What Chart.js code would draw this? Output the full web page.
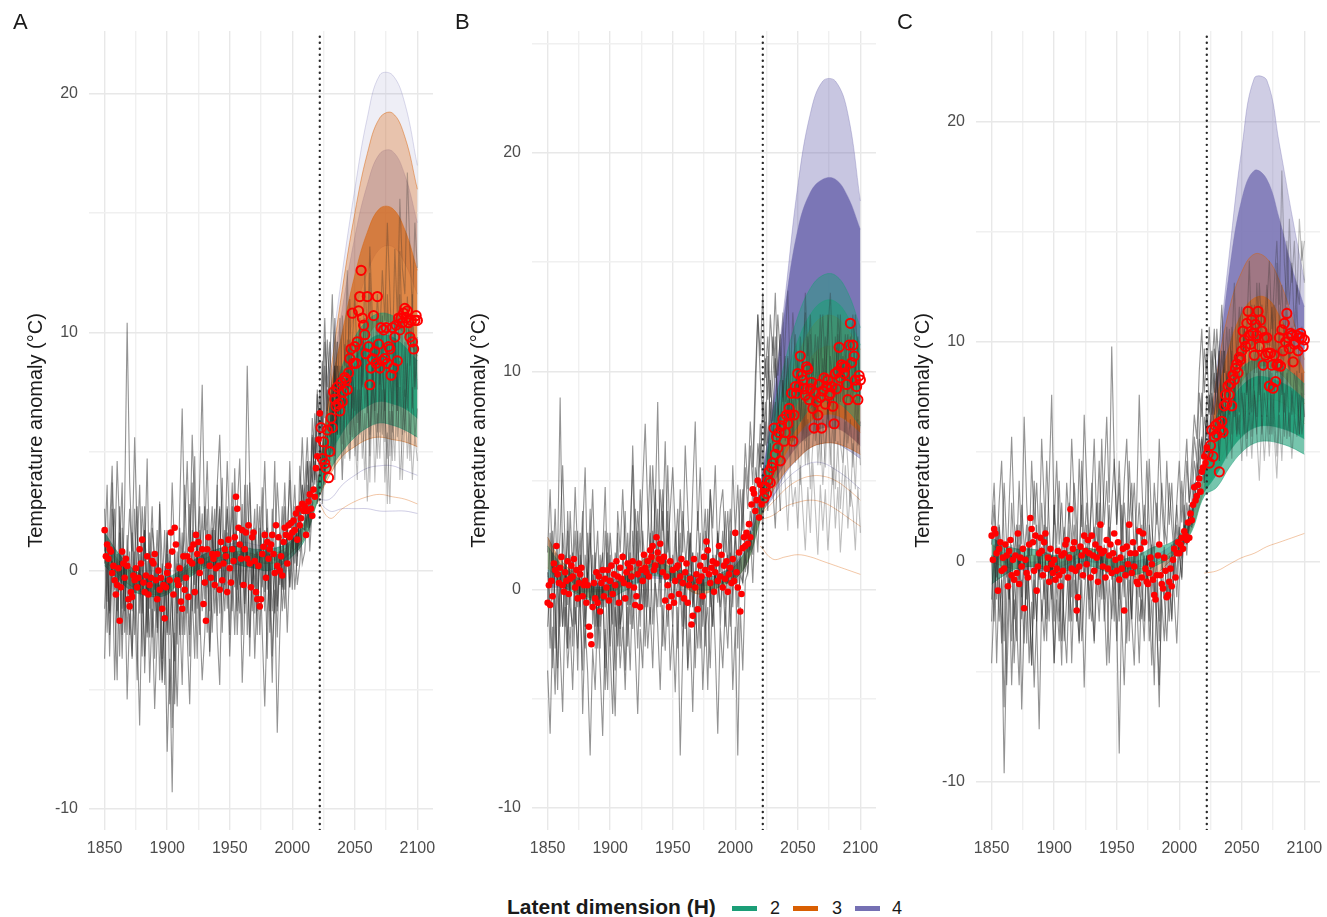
<!DOCTYPE html>
<html><head><meta charset="utf-8">
<script src="https://cdn.jsdelivr.net/npm/chart.js@4.4.1/dist/chart.umd.min.js"></script>
<style>
html,body{margin:0;padding:0;background:#fff;}
#wrap{position:relative;width:1327px;height:917px;overflow:hidden;font-family:'Liberation Sans',Arial,sans-serif;}
canvas{position:absolute;top:0;}
.plab{position:absolute;font-size:22px;line-height:22px;color:#1a1a1a;}
.leg{position:absolute;line-height:24px;color:#1a1a1a;white-space:nowrap;}
.sw{position:absolute;height:5px;width:25px;}
</style></head><body>
<div id="wrap">
<canvas id="cA" width="440" height="870" style="left:0px"></canvas>
<canvas id="cB" width="440" height="870" style="left:443px"></canvas>
<canvas id="cC" width="440" height="870" style="left:887px"></canvas>
<div class="plab" style="left:13px;top:11px">A</div>
<div class="plab" style="left:455px;top:11px">B</div>
<div class="plab" style="left:897px;top:11px">C</div>
<div class="leg" style="left:507px;top:895px;font-size:21px;font-weight:bold">Latent dimension (H)</div>
<div class="sw" style="left:732px;top:906px;background:#1B9E77"></div>
<div class="leg" style="left:770px;top:896px;font-size:18px">2</div>
<div class="sw" style="left:793px;top:906px;background:#D95F02"></div>
<div class="leg" style="left:832px;top:896px;font-size:18px">3</div>
<div class="sw" style="left:855px;top:906px;background:#7570B3"></div>
<div class="leg" style="left:892px;top:896px;font-size:18px">4</div>
</div>
<script>
// ---------------- DATA ----------------
const splitYear = 2022;
const pastYears = Array.from({length:173},(_,i)=>1850+i);   // 1850..2022
const futureYears = Array.from({length:78},(_,i)=>2023+i);  // 2023..2100
const grayYears = Array.from({length:126},(_,i)=>1850+2*i); // 1850..2100 step 2
const knotYears = [1850,1860,1870,1880,1890,1900,1910,1920,1930,1940,1950,1960,1970,1980,1990,2000,2010,2020,2030,2040,2050,2060,2070,2080,2090,2100];
const coreYears = [2020,2030,2040,2050,2060,2070,2080,2090,2100];
const xTicks = [1850,1875,1900,1925,1950,1975,2000,2025,2050,2075,2100];
const yTicksA = [-10,-5,0,5,10,15,20];
const yTicksB = [-10,-5,0,5,10,15,20,25];
const yTicksC = [-10,-5,0,5,10,15,20];

// observations (red)
const obsA_past = [1.7,0.6,1.1,0.5,0.9,0.8,-0.1,0.2,-0.4,-1.0, -0.6,0.1,-2.1,-0.7,0.8,0.3,-0.3,0.5,0.2,-1.2, -1.5,-0.9,-1.1,-0.2,-0.4,0.1,-0.7,-0.3,0.9,0.3, 1.3,-0.5,-0.9,-0.2,0.6,-1.0,-0.6,-0.3,0.4,0.3, 0.7,-0.4,-1.2,0.0,-0.8,-0.3,-1.6,-0.6,-2.0,-0.7, -0.1,0.2,-0.4,1.6,0.8,-1.0,1.8,1.1,-0.4,-0.6, 0.1,-1.3,-1.6,0.6,-0.8,-0.3,0.6,-1.1,0.4,0.9, 0.3,1.1,-0.9,1.5,0.7,1.2,-0.1,0.4,0.9,-1.4, -0.5,-2.1,0.9,1.4,0.2,-0.3,0.7,0.5,-0.6,0.1, 0.7,0.2,-0.8,1.2,-0.4,0.3,0.9,0.6,-0.9,1.3, 0.1,-0.5,0.9,0.4,1.4,3.1,2.6,1.8,1.1,0.5, 1.7,-0.6,0.9,1.6,0.5,1.9,0.3,-0.7,1.4,1.6, 0.4,-0.9,-1.2,0.2,-1.5,-1.2,0.7,1.0,1.5,-0.3, 1.2,0.5,0.9,1.1,1.5,0.7,-0.1,1.9,0.2,1.4, 0.0,0.6,-0.2,1.2,1.8,1.5,0.3,1.9,1.4,2.0, 1.6,2.1,1.7,2.4,1.3,2.6,1.9,2.2,2.8,2.5, 2.7,1.5,2.5,2.9,3.2,2.6,2.3,3.4,3.1,4.3, 4.8,5.5,6.6];
const obsA_future = [6.0,4.7,5.4,4.5,4.3,5.9,3.9,5.0,6.4,6.0, 7.5,7.2,6.9,7.7,7.0,6.7,7.9,7.1,7.5,8.1, 8.0,7.6,8.3,8.9,9.3,10.8,8.7,9.4,8.7,9.6, 10.9,11.5,12.6,10.6,10.3,9.9,9.1,11.5,9.4,7.8, 8.5,8.9,10.7,9.2,8.7,11.5,9.5,8.5,10.2,8.8, 10.1,8.9,10.2,8.7,9.4,9.3,8.2,10.2,8.5,9.8, 10.3,8.8,10.6,10.1,10.6,10.4,10.8,11.0,10.6,10.9, 10.4,9.8,10.5,9.6,9.3,10.5,10.7,10.5];
const obsB_past = [-0.6,0.2,-0.7,0.4,-0.3,1.2,0.9,2.0,0.7,0.3, 1.0,1.5,0.2,-0.1,0.8,0.4,1.3,-0.2,0.5,1.1, 0.6,1.4,0.1,0.9,-0.4,0.3,0.7,1.0,-0.3,0.2, 0.4,-0.6,0.2,-1.7,-2.1,-2.5,-0.8,0.3,-0.4,0.8, -0.6,0.6,-1.0,0.3,0.9,-0.3,0.5,0.1,0.9,-0.5, 0.4,1.1,-0.2,0.7,0.2,1.3,0.6,-0.6,1.0,0.5, 1.5,0.3,-0.4,0.8,1.2,0.2,1.0,0.6,1.3,0.1, -0.7,-0.3,0.7,1.2,-0.8,0.9,0.4,1.6,1.0,0.8, 1.3,0.6,1.8,1.5,2.0,0.9,1.1,2.4,1.7,1.4, 2.1,1.3,0.8,1.5,-0.5,0.6,0.2,-0.8,1.3,-0.3, 0.9,-0.6,0.4,1.0,1.1,-0.2,0.6,1.4,0.3,-0.4, 0.8,1.2,-0.6,0.2,0.5,-1.6,-1.2,1.4,0.1,0.7, -0.9,0.4,1.1,0.6,-0.3,1.5,0.9,2.2,1.8,0.7, 0.3,1.0,1.3,-0.1,0.8,1.2,0.4,2.0,0.6,1.6, 0.1,1.1,0.5,1.3,-0.1,0.7,1.0,0.3,1.4,0.4, 2.6,0.8,0.1,1.7,-1.0,-0.2,1.9,2.4,2.0,2.6, 2.1,3.0,2.4,3.9,4.6,4.4,3.6,4.1,5.0,3.3, 4.8,3.9,4.5];
const obsB_future = [4.2,4.7,4.4,5.0,5.4,4.9,5.6,5.8,7.4,6.2, 7.0,6.5,7.2,5.9,7.5,7.8,6.8,7.2,8.0,7.6, 8.3,8.0,9.0,6.8,8.0,9.3,9.0,9.9,9.3,10.7, 9.8,9.6,9.2,8.9,10.2,10.1,8.7,9.2,9.5,8.3, 7.4,9.0,8.6,8.0,9.4,8.8,7.4,9.1,9.7,8.5, 9.3,9.6,8.9,9.0,9.3,8.4,7.6,9.9,9.2,10.0, 11.1,9.7,10.3,10.2,9.9,10.2,9.4,8.7,11.2,12.2, 10.4,11.2,10.7,9.6,9.3,8.7,9.8,9.6];
const obsC_past = [1.2,0.1,1.5,1.3,0.4,-1.3,0.6,0.9,-0.4,0.2, -0.3,0.8,0.3,-1.1,0.5,1.0,-0.6,0.1,-0.8,0.3, -0.5,1.3,-1.0,0.2,-0.2,0.6,-2.1,0.1,-0.5,-0.7, 0.8,2.0,1.5,0.9,-0.4,1.2,-1.3,-0.2,0.4,1.1, 0.5,-0.6,0.9,1.3,-0.3,0.2,-0.9,0.6,-0.1,-0.5, 0.1,-0.8,-0.3,0.5,-0.6,-1.1,0.3,-0.4,0.4,0.8, 1.0,-0.7,0.2,2.4,-0.3,0.6,0.9,-0.4,-2.2,-1.6, -0.2,0.7,0.3,-0.6,1.2,0.5,-0.1,1.0,0.4,-0.7, 1.2,0.3,-0.4,0.8,0.2,-0.9,0.6,1.7,0.4,-0.2, 0.5,-0.7,1.0,-0.3,0.3,0.8,-0.5,0.4,1.3,0.1, -0.4,0.9,-0.8,0.2,-0.3,0.6,-2.2,-0.6,0.7,-0.1, 1.7,0.4,-0.5,0.9,-0.2,0.4,-0.9,-1.0,1.4,0.6, -0.7,1.3,0.9,-0.3,-0.9,-1.0,-0.5,0.2,-0.1,-0.8, -1.5,-1.7,-0.6,0.3,0.8,-0.6,-1.0,-1.2,0.2,-0.4, -1.6,-1.5,-0.9,-0.3,-1.1,0.1,0.6,-0.7,0.4,0.9, 0.4,0.8,1.1,0.6,1.4,1.2,1.0,1.8,1.1,2.2, 1.9,2.6,3.4,2.8,3.0,3.5,3.8,3.2,4.1,4.3, 4.8,4.5,5.2];
const obsC_future = [4.9,4.5,5.3,6.0,4.8,5.7,6.2,5.8,6.3,4.1, 6.0,6.4,5.9,7.1,7.6,7.2,8.0,7.6,8.1,7.1, 8.5,8.3,8.8,9.0,8.6,9.3,9.2,9.6,10.5,10.1, 9.8,10.85,11.4,10.3,9.9,11.0,10.4,9.4,10.8,10.3, 11.4,9.8,11.0,10.5,8.95,10.2,9.4,10.2,9.5,8.0, 9.5,8.95,7.9,9.4,8.2,8.95,9.0,10.2,8.9,10.55, 9.6,10.85,10.0,11.3,10.2,9.7,10.4,10.3,9.1,9.9, 10.0,10.3,9.6,10.2,10.4,10.2,9.8,10.1];

// simulated ensemble members (grey), every 2 years 1850..2100
const grayA1 = [2.6,-1.3,1.8,4.4,0.3,-2.2,0.8,3.7,-2.6,1.5, -0.7,-3.6,0.4,2.7,-1.8,1.2,-4.3,-0.9,1.6,-2.8, 0.2,-2.4,2.9,-3.7,-1.1,1.7,-5.6,-2.3,0.9,-3.1, 1.8,-0.6,3.6,0.4,-2.7,0.9,4.8,-1.6,0.3,2.4, -1.2,1.7,-3.4,0.8,2.6,-1.9,0.5,3.9,-0.8,1.6, -2.7,0.6,4.3,-0.3,-1.8,2.8,-1.4,1.9,-3.6,0.7, 2.6,-1.7,0.3,3.5,-0.9,1.8,-2.6,0.8,4.6,-1.5, 0.4,2.7,-0.8,1.6,3.8,0.9,2.5,0.2,4.4,2.6, 3.5,5.6,2.8,6.4,4.7,7.6,5.5,8.8,6.4,9.7, 7.5,5.8,10.6,6.7,8.6,5.3,9.5,7.6,11.4,6.8, 8.7,6.2,10.4,7.7,9.6,6.6,12.5,8.4,6.1,10.6, 7.8,9.6,5.4,11.6,8.7,6.9,10.5,7.7,13.4,9.6, 7.3,11.5,8.6,10.7,7.6,9.8];
const grayA2 = [-1.6,0.7,-3.6,0.4,-1.3,-4.6,1.6,-2.7,0.3,-5.4, -1.8,-3.7,0.8,-2.6,-6.5,-0.7,-3.6,0.4,-4.7,-1.6, -5.8,-2.7,-0.6,-4.6,-1.7,-7.6,-3.7,-9.3,-2.6,-5.7, -1.6,-4.8,0.3,-2.7,-5.6,-0.8,-3.7,0.9,-1.8,-4.6, -2.7,0.4,-3.6,-0.7,1.7,-2.6,-4.8,0.3,-1.7,0.8, -3.6,-0.8,1.6,-2.7,0.3,-4.7,-1.6,0.8,-2.8,0.4, -3.7,-0.7,0.8,-2.6,-5.7,-1.8,0.3,-3.6,-0.8,-6.8, -2.7,0.4,-1.6,0.8,-0.7,1.7,0.3,2.6,0.8,3.6, 1.7,4.6,2.7,5.6,3.8,7.4,5.7,4.6,8.6,6.7, 5.6,7.7,4.8,8.6,6.7,3.8,7.6,5.7,4.6,8.4, 5.7,3.8,7.6,4.7,6.6,2.9,5.7,7.6,3.7,6.6, 4.7,7.6,3.7,5.8,2.8,6.7,4.6,8.5,3.8,5.6, 7.6,4.7,6.6,3.8,5.7,4.6];
const grayA3 = [0.8,3.6,-1.7,2.6,0.3,4.6,1.7,-0.8,2.7,10.4, 3.7,0.8,5.6,1.6,-0.7,2.7,0.4,4.7,-1.6,1.8, 0.7,-2.6,2.8,0.3,-1.7,1.6,-0.8,3.7,0.6,-1.8, 2.6,6.8,1.7,4.6,0.8,5.7,2.6,0.3,3.7,7.8, 1.7,4.6,0.8,2.7,-0.8,3.6,5.7,1.6,0.3,2.7, 0.8,3.7,-0.7,2.6,4.7,0.3,1.7,8.6,3.6,0.8, -0.7,2.8,0.3,1.7,4.6,0.8,-1.7,2.6,0.4,3.7, 1.7,-0.8,2.7,0.8,4.6,1.7,3.6,0.8,2.7,5.6, 2.7,4.6,1.8,5.7,3.6,6.7,4.6,7.6,10.6,6.7, 8.6,11.6,7.7,9.6,6.8,10.7,8.6,12.6,7.7,9.5, 11.6,8.7,10.6,7.8,12.5,9.6,13.6,10.7,8.6,11.6, 9.7,12.6,10.5,14.6,11.7,8.8,13.5,10.6,15.6,12.7, 11.6,16.7,13.6,10.8,14.6,12.7];
const grayA4 = [-3.7,0.3,-1.8,0.8,-4.6,-0.7,2.7,-1.6,0.4,-2.7, 0.8,-1.7,2.6,-0.8,0.3,-3.6,1.7,-0.6,-2.8,0.7, -1.7,0.3,-4.6,-0.8,1.7,-2.7,0.4,-6.6,-1.6,0.8, -0.7,1.6,-2.7,0.3,2.8,-1.7,0.6,-3.7,1.7,0.2, 2.7,-0.7,0.8,-2.6,0.3,3.6,-1.8,0.7,-0.6,2.6, 0.3,-1.7,2.6,-0.8,0.7,-2.7,1.6,0.2,3.7,-0.8, 0.7,-2.7,1.8,0.3,-1.7,2.6,-0.8,-4.7,0.6,-1.7, 1.6,-0.7,0.8,-2.6,0.3,1.7,-0.8,0.7,2.6,0.3, 0.8,2.7,1.6,3.7,5.6,2.8,4.6,6.7,3.6,5.7, 4.6,6.7,3.8,7.6,5.7,8.6,4.7,6.6,9.7,5.6, 7.7,4.6,8.6,6.7,3.8,7.6,5.7,9.6,6.6,4.7, 8.6,5.7,7.6,2.8,6.7,4.6,8.7,5.6,7.7,3.8, 6.6,8.7,4.6,7.7,5.6,6.8];
const grayA5 = [1.7,-2.6,0.3,3.7,-0.8,0.7,-3.6,1.8,-1.7,0.3, 2.6,0.4,-2.7,0.8,3.6,-0.7,1.7,-2.8,0.3,2.7, -0.8,1.7,-1.6,-4.7,0.2,-2.6,0.8,-1.7,-3.8,0.3, -2.7,0.4,1.7,-1.8,0.8,3.7,-0.6,1.6,-2.7,0.8, 0.3,2.6,-1.7,1.8,-0.7,0.8,2.7,-2.6,0.7,4.6, 1.7,0.3,-2.7,0.8,-0.6,1.7,-1.8,3.6,0.7,-1.7, 1.8,0.2,2.7,-0.7,0.8,-3.7,1.6,0.3,-1.8,0.7, -0.6,0.8,3.7,0.3,1.6,-0.8,2.7,0.6,1.8,3.6, 2.7,1.8,4.6,3.7,6.6,4.7,7.6,5.8,9.6,7.7, 9.6,6.7,8.6,5.8,10.6,7.7,6.8,9.7,5.7,8.6, 6.7,9.6,5.8,8.7,10.6,7.6,4.8,8.6,6.7,9.7, 5.8,8.6,6.7,9.6,4.8,7.7,10.6,6.7,8.8,5.7, 9.6,6.8,8.7,11.6,7.7,9.6];
const grayA6 = [0.3,1.7,-2.7,0.8,2.6,-1.7,0.4,-3.7,0.8,-0.7, -2.7,1.6,-0.8,-4.6,0.7,-1.8,2.7,-2.6,0.8,-0.6, -3.7,0.8,-1.7,0.3,-4.8,0.7,-2.7,-0.8,-5.6,-1.7, 0.3,-2.7,0.8,-0.7,-3.6,1.7,-1.8,0.3,2.7,-1.7, 0.8,-2.6,0.3,1.7,-1.8,0.2,2.6,-0.8,1.7,-1.6, 0.7,2.7,0.3,-1.7,1.8,-0.7,3.6,-2.7,0.3,1.7, -1.8,0.8,-2.7,0.3,1.7,-0.8,0.7,-1.7,0.3,-2.8, 0.8,-1.7,0.3,1.8,-0.7,0.8,1.7,-0.6,0.3,1.8, 1.7,3.6,0.8,2.7,4.6,3.7,5.6,2.8,4.7,7.6, 6.7,4.8,8.6,5.7,7.6,3.8,6.7,8.6,4.7,7.7, 4.8,7.6,5.7,9.6,6.8,8.6,3.7,7.7,9.6,5.8, 7.6,10.7,6.8,4.7,8.6,5.8,9.6,6.7,11.6,7.7, 5.8,8.6,10.7,6.8,9.7,7.6];

const grayB1 = [-0.7,2.6,0.3,-2.7,1.7,8.8,0.8,-1.7,3.6,0.4, -2.6,0.8,2.7,-0.8,-3.7,1.6,0.3,3.7,-1.6,0.8, -1.7,1.6,-0.8,2.7,0.3,-2.6,0.8,-0.7,2.6,-1.8, 0.8,3.6,-0.7,1.7,6.6,2.7,0.3,4.6,1.7,-0.8, 2.6,5.7,0.8,3.7,8.6,1.7,4.6,0.3,2.7,0.8, -1.7,1.6,3.7,0.3,-2.6,0.8,2.7,-0.8,1.7,-3.6, 0.3,2.6,-1.7,0.8,3.7,-0.8,1.6,0.3,2.7,-1.7, 0.8,3.6,0.3,1.7,-0.8,2.7,0.8,4.6,2.7,5.6, 3.7,6.6,4.8,8.7,12.6,9.7,7.8,10.6,8.7,12.6, 10.7,13.6,9.8,11.7,8.6,10.7,7.8,9.6,6.8,8.7, 10.6,7.7,9.6,6.8,11.6,8.7,10.6,7.8,9.7,12.6, 8.7,11.6,7.8,10.7,9.6,6.8,11.7,8.6,10.7,7.8, 9.7,11.6,8.8,10.6,7.7,9.6];
const grayB2 = [-3.7,-6.6,-1.7,-4.8,0.3,-2.7,-5.6,-0.8,-3.6,-1.7, -4.6,-0.8,-2.7,0.3,-5.7,-1.6,-3.8,-7.6,-2.7,-4.6, -0.8,-3.7,-6.7,-1.8,-4.6,0.3,-2.7,-5.8,-0.7,-3.6, -1.7,-4.6,-0.8,-3.7,0.4,-2.6,-5.7,-1.8,-3.6,0.7, -2.7,-0.8,-3.6,0.3,-1.7,-4.6,-0.7,-2.8,0.4,-3.7, -1.6,-4.7,-0.8,-7.6,-2.7,0.3,-3.7,-1.8,-5.6,-0.8, -2.7,0.3,-4.6,-1.7,-0.8,-3.6,0.4,-2.7,-6.6,-1.7, -3.6,-0.8,-2.7,0.3,-4.6,-1.7,-7.6,-0.8,-3.7,0.4, 0.8,2.7,0.3,3.6,1.7,4.6,2.8,5.7,3.6,6.7, 4.6,2.8,5.7,3.6,6.6,4.8,2.7,5.6,3.8,4.7, 2.8,5.7,3.6,1.8,4.7,2.6,5.8,3.7,1.6,4.8, 2.7,4.6,1.8,3.7,5.6,2.8,4.7,1.7,3.6,5.7, 2.8,4.6,3.7,1.8,4.7,2.6];
const grayB3 = [1.7,4.6,0.8,3.7,0.3,2.6,5.7,1.8,-0.7,3.6, 0.8,4.7,1.6,-0.8,2.7,5.6,0.3,1.7,4.6,0.8, 2.7,-0.8,1.6,4.7,0.3,2.6,0.8,-1.7,3.6,1.7, 4.6,1.7,0.3,2.8,5.7,0.8,3.6,1.7,4.8,7.6, 3.7,1.6,5.7,2.8,0.7,4.6,2.7,6.8,1.7,3.6, 5.6,2.7,0.8,4.6,1.7,6.6,3.7,0.8,4.6,7.7, 2.7,5.6,1.8,3.7,0.3,4.6,2.8,5.7,1.6,3.7, 4.6,1.7,3.6,0.8,5.7,2.6,4.8,1.7,3.6,6.7, 4.6,7.7,5.6,9.7,12.6,10.7,13.6,9.7,11.6,8.8, 11.6,9.7,12.6,10.7,8.8,11.6,13.7,9.6,12.7,10.6, 8.7,11.6,9.7,13.6,10.7,12.6,9.8,11.7,8.6,10.7, 12.6,9.7,11.8,13.6,10.7,8.8,12.6,10.7,9.6,11.7, 8.8,10.7,12.6,9.7,11.6,8.7];
const grayB4 = [-1.7,0.3,2.7,-0.8,-3.6,0.8,-1.7,1.6,-2.7,0.3, 1.7,-1.6,0.3,2.6,-0.8,-2.7,0.8,-0.7,1.6,-1.7, 0.3,-2.7,0.8,-4.6,-1.7,1.6,-0.8,-3.7,0.4,-1.6, -0.8,0.7,-2.6,1.7,-1.8,0.3,2.7,-0.7,0.8,-2.6, 0.3,1.7,-1.6,0.8,3.7,-0.8,1.6,0.3,-1.7,0.8, -0.7,0.8,-2.7,1.6,0.3,-1.8,0.7,2.6,-0.8,0.3, 1.7,-0.8,0.7,-2.6,1.8,0.3,-1.7,0.8,-0.6,1.7, 0.3,-1.7,0.8,2.7,0.3,1.6,-0.8,0.7,0.3,2.6, 1.7,3.6,2.7,5.6,4.7,7.6,5.8,8.6,6.7,9.6, 7.7,10.6,8.7,6.8,9.6,7.7,10.6,6.8,8.7,5.8, 7.7,9.6,6.8,8.7,5.7,7.6,9.7,6.8,8.6,5.7, 7.8,5.6,8.7,6.6,4.8,7.7,9.6,6.7,5.8,8.6, 6.7,7.8,5.6,8.7,6.6,7.7];
const grayB5 = [0.3,-2.7,1.7,-0.8,-4.6,0.8,-1.7,0.3,2.7,-0.8, -1.7,0.8,-3.7,1.6,0.3,-1.7,2.6,-0.8,0.7,-2.7, 0.8,-1.7,0.3,-3.6,1.7,-2.8,-5.7,-0.8,-2.6,0.7, -0.8,-3.7,0.7,-1.6,2.7,0.3,-2.7,0.8,-0.7,1.6, 0.7,-1.6,2.7,0.3,-0.8,1.7,-2.6,0.8,3.6,0.3, 1.6,-0.7,0.3,2.6,-1.7,0.8,-3.6,0.3,1.7,-1.6, 0.3,-2.7,0.8,-0.7,-4.6,0.3,-1.7,1.6,0.3,-0.8, 0.7,-0.8,1.6,-1.7,0.3,0.8,-2.7,1.7,0.3,1.6, 0.8,2.7,1.6,4.7,3.6,6.7,4.6,7.7,5.6,8.6, 6.7,8.6,5.8,7.7,9.6,6.8,8.7,5.6,7.8,9.7, 6.6,4.8,8.6,5.7,7.8,4.6,6.7,8.8,5.7,7.6, 4.8,6.7,8.6,5.7,7.8,4.6,6.8,3.7,5.6,7.7, 5.7,3.8,6.7,4.6,7.8,5.7];
const grayB6 = [0.8,-0.7,-3.6,1.7,0.3,-1.7,2.6,0.8,-2.7,1.6, 0.3,2.7,-0.8,0.7,3.6,-1.7,0.8,2.6,-0.7,1.7, -2.7,0.8,1.7,-0.8,2.6,0.3,-1.6,1.7,0.8,-2.6, 1.7,0.3,2.6,-0.7,0.8,3.7,1.6,-1.7,2.7,0.8, -0.8,2.6,0.7,4.6,1.7,0.3,3.6,0.8,5.7,1.6, 0.3,2.7,0.8,-0.7,3.6,1.7,0.3,2.6,-0.8,0.7, 3.6,0.8,-0.7,2.7,0.8,4.6,1.7,0.3,2.6,0.8, 2.7,0.3,1.6,3.7,0.8,2.6,0.3,1.7,4.6,0.8, 2.6,1.8,4.7,3.6,6.7,5.6,8.7,6.6,10.7,7.6, 9.7,11.6,7.7,9.6,12.7,8.6,10.7,7.8,9.6,11.7, 9.6,7.7,10.6,12.7,8.6,11.7,7.8,9.7,11.6,8.7, 10.6,8.7,12.6,9.7,7.8,11.6,9.7,12.6,8.7,10.6, 11.7,8.6,9.8,12.6,10.7,8.6];

const grayC1 = [-1.7,0.8,-4.6,-0.7,-2.6,-9.6,-3.7,-0.8,-5.6,-1.7, -3.6,0.3,-6.7,-2.8,-0.7,-4.6,-1.8,-5.7,-2.6,0.3, -2.7,-0.8,-3.6,0.7,-1.7,-4.6,-0.8,-2.7,0.3,-3.6, -1.7,0.3,-4.6,-0.8,-2.7,0.7,-3.6,-1.7,0.3,-2.6, -0.8,-3.7,0.3,-1.6,0.8,-2.7,-0.7,-4.6,-1.7,0.3, -2.7,-8.7,-1.6,0.3,-3.7,-0.8,-2.6,0.7,-1.7,-4.6, -0.8,-2.7,0.3,-3.6,-1.7,-5.6,-0.8,-2.7,0.3,-1.6, -3.6,-0.8,-2.7,0.3,-1.6,0.8,-0.7,1.7,0.3,2.6, 1.7,3.6,2.7,5.6,4.7,6.6,5.7,7.6,6.7,8.6, 6.7,9.6,7.7,5.8,8.6,6.7,9.6,7.8,5.7,8.6, 7.7,5.8,8.6,6.7,9.6,7.7,5.8,8.7,6.6,9.7, 7.7,5.8,8.6,6.7,4.8,7.6,9.7,6.8,8.6,5.7, 7.8,6.6,8.7,5.8,7.7,6.6];
const grayC2 = [1.7,3.6,0.3,2.7,4.6,0.8,-0.7,2.6,5.7,1.8, 0.3,3.7,0.8,6.6,2.7,0.3,4.6,1.7,3.6,0.8, 5.6,2.7,0.3,3.7,7.6,1.7,4.6,0.8,2.7,0.3, 3.6,1.7,5.6,2.8,0.3,4.7,1.6,6.7,3.6,0.8, 2.7,5.6,1.7,4.6,0.8,3.7,6.6,2.7,9.8,4.6, 1.7,4.6,0.8,3.7,5.6,1.8,3.6,0.3,2.7,7.6, 3.7,0.8,4.6,1.7,0.3,3.6,1.7,5.6,2.7,0.8, 4.6,1.7,3.6,0.8,2.7,4.6,1.8,3.7,5.6,2.7, 4.6,6.7,5.6,8.7,10.6,7.7,9.6,6.8,8.7,10.6, 7.7,9.6,11.7,8.6,10.7,7.8,9.6,12.7,8.6,10.7, 11.6,8.7,10.6,13.7,9.6,11.7,8.6,12.7,10.6,9.7, 11.6,13.7,10.6,12.7,14.6,11.7,17.8,13.6,11.7,15.6, 12.7,14.6,11.7,15.6,13.7,14.6];
const grayC3 = [0.3,-2.7,1.6,-0.8,-3.7,0.3,-5.6,-1.7,0.8,-2.6, -0.8,1.7,-1.6,0.3,-3.7,0.8,-0.7,-2.6,1.7,-0.8, 0.7,-1.7,1.6,-0.8,0.3,-2.7,0.8,-1.6,-4.7,0.3, -0.8,1.7,-1.6,0.8,-2.7,0.3,2.6,-0.8,0.7,-1.7, 0.3,1.6,-0.8,2.7,-1.7,0.8,-0.7,1.6,0.3,-2.7, 0.8,-1.7,2.6,0.3,-0.8,1.7,-2.6,0.8,0.3,-1.6, 1.7,-0.8,0.3,-2.7,0.8,-1.7,0.3,-3.6,-0.8,0.7, -1.7,0.3,-2.6,0.8,-0.7,1.6,0.3,0.8,2.7,1.6, 2.7,4.6,3.7,5.6,7.7,4.6,6.7,5.8,7.6,6.7, 8.6,5.7,7.6,6.8,4.7,7.7,5.8,8.6,6.7,5.8, 7.7,6.6,4.8,8.6,5.7,7.8,6.6,9.7,5.8,7.7, 6.6,8.7,5.8,7.6,9.7,6.8,8.6,5.7,7.8,9.6, 6.7,8.6,7.7,5.8,8.6,6.7];
const grayC4 = [-2.7,0.3,-1.7,1.6,-0.8,-3.6,0.8,-1.7,0.3,-4.6, -1.7,0.8,-2.6,0.3,1.7,-1.6,-4.7,0.3,-2.7,0.8, -0.8,1.7,-2.6,0.3,-1.7,2.6,-0.8,0.7,-3.6,-0.8, 0.8,-2.7,0.3,1.7,-1.6,-3.7,0.3,-0.8,1.7,-1.6, -2.7,0.3,1.6,-0.8,0.7,-1.7,0.3,2.6,-0.8,0.7, 0.3,-2.7,0.8,-1.6,1.7,-3.6,0.3,-0.8,1.6,-0.7, -2.6,0.3,-0.8,1.7,-1.6,0.3,-2.7,-6.6,-0.8,-1.7, 0.3,-1.6,0.8,-0.7,1.7,0.3,-0.8,2.6,0.8,1.7, 1.6,2.7,4.6,3.7,5.6,4.7,7.6,6.7,9.6,7.7, 10.6,8.7,6.8,9.6,7.7,10.6,8.7,6.6,9.7,11.6, 8.7,10.6,7.7,9.6,11.7,8.6,12.7,9.6,11.7,10.6, 12.6,9.7,11.6,8.7,13.6,10.7,12.6,9.7,14.6,11.7, 13.6,10.7,12.6,11.7,14.6,12.7];
const grayC5 = [0.8,2.6,-0.7,1.7,0.3,3.6,0.8,-1.7,2.7,0.3, 1.7,-0.8,2.6,0.8,-1.7,1.6,0.3,3.7,0.8,-0.7, 2.7,0.3,4.6,1.7,-0.8,2.6,0.8,3.7,0.3,1.6, 0.3,2.7,0.8,3.6,1.7,-0.8,4.6,0.8,2.7,0.3, 3.6,0.8,2.7,0.3,5.6,1.7,3.7,0.8,2.6,4.7, 1.7,3.6,0.3,2.7,0.8,4.6,1.7,3.6,0.8,2.7, 0.3,2.6,0.8,4.7,1.6,0.3,2.7,0.8,3.6,1.7, 0.8,3.6,1.7,0.3,2.6,0.8,3.7,1.6,4.6,2.7, 3.6,5.7,4.6,7.7,6.6,9.7,8.6,10.7,7.6,9.7, 8.6,6.7,9.6,7.7,5.8,8.6,10.7,7.6,9.7,6.8, 8.6,10.7,7.6,9.7,6.8,8.6,10.7,7.6,9.8,8.7, 10.6,7.7,9.6,11.7,8.6,10.7,7.6,9.8,11.6,8.7, 10.7,9.6,11.7,8.6,10.7,9.7];
const grayC6 = [-4.6,-1.7,0.3,-2.7,-0.8,-6.6,-1.7,0.3,-3.6,-0.8, -2.7,-5.6,-0.8,-3.7,0.3,-1.6,-4.7,-0.8,-2.6,-7.6, -1.7,-3.6,-0.8,-2.7,0.3,-4.6,-1.7,-3.6,-0.8,-2.7, -4.6,-0.8,-2.7,0.3,-1.7,-3.6,-0.8,-5.7,-1.6,0.3, -1.7,-3.6,-0.8,-2.7,0.3,-1.6,-4.7,-0.8,-2.6,-0.7, -3.6,-0.8,-2.7,-5.6,-1.7,0.3,-2.6,-4.7,-0.8,-2.7, -1.7,-3.6,0.3,-1.6,-4.7,-0.8,-2.7,-5.6,-1.7,-3.6, -0.8,-2.7,0.3,-1.6,-3.7,-0.8,0.3,1.7,0.8,2.6, 1.7,3.6,2.7,4.6,5.7,3.6,6.7,4.6,7.7,5.6, 6.7,4.6,7.7,5.6,8.7,6.6,4.7,7.6,5.8,6.7, 4.6,7.7,5.6,6.8,4.7,7.6,5.8,3.7,6.7,4.6, 6.7,4.8,7.6,5.7,3.8,6.7,4.6,7.7,5.6,6.8, 4.7,6.6,5.7,7.6,5.8,6.7];

// model fits by latent dimension: envelope (knotYears) and dense core (coreYears)
const greenA_lo = [0.2,-0.3,-0.8,-1.0,-1.1,-1.0,-0.5,-0.2,0.1,0.2,0.3,0.2,0.1,0.0,0.2,0.6,1.3,2.9,4.2,5.0,5.6,6.0,6.2,6.1,5.9,5.6];
const greenA_hi = [1.6,0.8,0.2,-0.2,-0.4,-0.3,0.0,0.4,0.7,0.9,1.0,1.0,0.9,0.9,1.0,1.3,2.1,3.6,6.8,8.6,9.8,10.5,10.8,10.7,10.3,9.6];
const greenA_coreLo = [3.0,4.8,5.8,6.5,6.9,7.1,7.0,6.8,6.4];
const greenA_coreHi = [3.5,6.2,7.8,8.9,9.6,9.9,9.8,9.4,8.8];
const orangeA_lo = [0.4,-0.1,-0.6,-0.9,-1.0,-0.9,-0.5,-0.1,0.2,0.4,0.5,0.5,0.4,0.3,0.4,0.8,1.4,2.9,4.0,4.8,5.2,5.5,5.6,5.5,5.4,5.2];
const orangeA_hi = [1.2,0.5,0.0,-0.4,-0.6,-0.5,-0.2,0.2,0.5,0.7,0.8,0.8,0.7,0.7,0.8,1.2,2.0,3.5,8.0,11.8,15.0,17.5,19.0,19.2,18.2,16.0];
const orangeA_coreLo = [3.0,5.5,7.0,8.6,9.8,10.4,10.4,9.9,9.0];
const orangeA_coreHi = [3.4,7.4,10.0,12.4,14.2,15.2,15.2,14.3,12.6];
const purpleA_lo = [0.3,-0.2,-0.6,-0.8,-0.9,-0.8,-0.4,0.0,0.3,0.5,0.6,0.7,0.6,0.5,0.5,0.8,1.4,2.9,4.5,6.0,7.5,8.6,9.2,9.2,8.8,8.0];
const purpleA_hi = [1.0,0.4,-0.1,-0.4,-0.5,-0.4,-0.1,0.3,0.7,0.9,1.1,1.2,1.1,1.0,1.0,1.2,2.0,3.5,8.5,12.5,16.0,19.0,20.8,20.8,19.6,17.0];
const purpleA_coreLo = [3.0,6.0,8.5,10.8,12.5,13.5,13.6,12.9,11.6];
const purpleA_coreHi = [3.4,7.6,11.0,14.0,16.2,17.5,17.6,16.6,14.6];
const outA_orange = [3.0,2.2,2.6,2.9,3.1,3.2,3.1,3.0,2.8];
const outA_purple1 = [3.0,3.0,3.6,4.0,4.3,4.4,4.4,4.2,4.0];
const outA_purple2 = [3.0,2.5,2.6,2.6,2.6,2.5,2.5,2.5,2.4];

const greenB_lo = [0.6,0.2,-0.1,-0.4,-0.5,-0.4,-0.1,0.2,0.6,0.6,0.4,0.2,0.0,0.0,0.2,0.5,1.3,3.2,5.0,6.5,7.5,8.3,8.6,8.6,8.2,7.5];
const greenB_hi = [2.0,1.2,0.7,0.3,0.1,0.2,0.5,0.8,1.1,1.2,1.0,0.8,0.6,0.6,0.8,1.1,2.1,4.2,8.0,10.5,12.5,13.8,14.4,14.4,13.6,12.0];
const greenB_coreLo = [3.4,5.6,7.3,8.6,9.5,9.9,9.9,9.4,8.6];
const greenB_coreHi = [4.0,7.4,9.6,11.4,12.6,13.2,13.2,12.5,11.2];
const orangeB_lo = [1.0,0.4,0.0,-0.3,-0.4,-0.2,0.2,0.6,1.0,1.0,0.5,0.1,-0.2,-0.1,0.2,0.5,1.3,3.2,4.5,5.4,6.0,6.5,6.7,6.7,6.5,6.2];
const orangeB_hi = [2.4,1.4,0.8,0.3,0.0,0.2,0.6,1.0,1.5,1.5,1.0,0.6,0.3,0.4,0.7,1.1,2.0,4.0,7.2,9.0,10.7,11.9,12.5,12.5,11.9,11.0];
const orangeB_coreLo = [3.4,5.0,6.2,7.1,7.7,8.0,8.0,7.7,7.2];
const orangeB_coreHi = [3.8,6.6,8.2,9.6,10.6,11.1,11.1,10.6,9.8];
const purpleB_lo = [0.1,0.1,0.0,-0.1,-0.1,0.0,0.2,0.3,0.5,0.5,0.4,0.3,0.2,0.2,0.3,0.6,1.4,3.4,4.2,5.3,6.0,6.5,6.7,6.7,6.4,6.0];
const purpleB_hi = [0.9,0.7,0.5,0.3,0.3,0.4,0.6,0.7,0.9,0.9,0.8,0.7,0.6,0.6,0.8,1.2,2.3,4.8,8.7,13.5,18.5,21.8,23.3,23.3,21.8,17.8];
const purpleB_coreLo = [3.6,4.8,5.8,6.6,7.1,7.4,7.4,7.1,6.6];
const purpleB_coreHi = [4.6,8.3,13.0,16.5,18.2,18.8,18.8,18.0,16.5];
const outB_orange1 = [2.0,1.4,1.5,1.6,1.5,1.3,1.1,0.9,0.7];
const outB_orange2 = [3.2,3.4,3.8,4.0,4.1,4.0,3.7,3.3,2.9];
const outB_orange3 = [3.4,4.0,4.6,5.0,5.2,5.2,5.0,4.6,4.1];
const outB_purple1 = [3.5,4.3,5.0,5.5,5.8,5.8,5.5,5.1,4.6];

const greenC_lo = [-1.0,-0.6,-0.3,-0.2,-0.3,-0.5,-0.4,-0.2,-0.2,-0.4,-0.7,-0.6,-0.5,-0.2,0.1,0.6,1.4,3.0,3.4,4.3,5.0,5.4,5.5,5.4,5.2,4.9];
const greenC_hi = [1.1,0.8,0.6,0.6,0.5,0.3,0.4,0.6,0.6,0.4,0.1,0.2,0.4,0.7,0.8,1.2,2.4,4.2,6.6,8.0,8.8,9.2,9.2,9.0,8.6,8.1];
const greenC_coreLo = [3.2,4.0,5.0,5.7,6.1,6.2,6.1,5.9,5.6];
const greenC_coreHi = [3.9,5.8,7.2,8.0,8.4,8.4,8.2,7.9,7.4];
const orangeC_lo = [0.0,-0.2,-0.3,-0.2,-0.2,-0.3,-0.1,0.2,0.2,0.0,-0.3,-0.5,-0.8,-0.6,-0.1,0.5,1.5,3.2,4.2,5.5,6.5,7.2,7.4,7.3,6.9,6.3];
const orangeC_hi = [0.8,0.4,0.2,0.3,0.3,0.2,0.4,0.6,0.6,0.4,0.1,-0.1,-0.3,-0.1,0.3,0.9,2.0,4.0,8.5,11.5,13.2,14.0,13.8,12.8,11.2,9.2];
const orangeC_coreLo = [3.4,5.2,7.0,8.2,8.8,8.9,8.6,8.0,7.2];
const orangeC_coreHi = [3.8,7.4,9.8,11.3,12.0,12.0,11.2,10.0,8.6];
const purpleC_lo = [0.2,0.0,-0.3,-0.4,-0.4,-0.5,-0.3,0.0,0.0,-0.1,-0.3,-0.3,-0.2,0.0,0.3,0.7,1.6,3.4,5.0,6.5,7.5,8.0,8.1,7.8,7.3,6.6];
const purpleC_hi = [1.2,0.6,0.1,0.0,0.0,-0.1,0.1,0.4,0.4,0.2,0.0,0.0,0.1,0.3,0.6,1.1,2.3,4.4,8.8,14.0,18.8,22.0,21.9,19.0,15.8,12.8];
const purpleC_coreLo = [3.6,6.0,8.0,9.3,9.9,9.9,9.4,8.6,7.6];
const purpleC_coreHi = [4.4,8.4,13.2,16.5,17.8,17.4,15.6,13.4,11.6];
const outC_orange = [-0.5,-0.4,-0.1,0.2,0.4,0.7,0.9,1.1,1.3];

// ---------------- RENDER ----------------
const FONT = "'Liberation Sans', Arial, sans-serif";
const GREEN = '#1B9E77', ORANGE = '#D95F02', PURPLE = '#7570B3';
function rgba(hex,a){const n=parseInt(hex.slice(1),16);return `rgba(${n>>16},${(n>>8)&255},${n&255},${a})`;}
function pts(xs, ys){ return ys.map((y,i)=>({x:xs[i], y:y})); }

function buildPanel(id, P){
  const ds = [];
  const add = d => { ds.push(Object.assign({pointRadius:0, pointHoverRadius:0, borderWidth:1, fill:false, tension:0.4}, d)); return ds.length-1; };
  P.bands.forEach(b => {
    const iLo = add({data: pts(knotYears, b.lo), borderColor: rgba(b.color, b.lineA), order: b.order});
    add({data: pts(knotYears, b.hi), borderColor: rgba(b.color, b.lineA), fill:{target:iLo}, backgroundColor: rgba(b.color, b.fillA), order: b.order});
    const iCl = add({data: pts(coreYears, b.coreLo), borderColor: rgba(b.color, b.lineA), order: b.order-1});
    add({data: pts(coreYears, b.coreHi), borderColor: rgba(b.color, b.lineA), fill:{target:iCl}, backgroundColor: rgba(b.color, b.coreA), order: b.order-1});
  });
  P.outliers.forEach(o => add({data: pts(coreYears, o.y), borderColor: rgba(o.color, 0.35), order: 60}));
  P.gray.forEach(g => add({data: pts(grayYears, g), borderColor: 'rgba(40,40,40,0.5)', borderWidth:1.1, tension:0, order: 20,
      segment:{borderColor: c => c.p0.parsed.x >= 2036 ? 'rgba(40,40,40,0.3)' : 'rgba(40,40,40,0.5)'}}));
  add({data: [{x:splitYear, y:P.ymin}, {x:splitYear, y:P.ymax}], borderColor:'#2a2a2a', borderWidth:2.4, borderDash:[0.01,6], borderCapStyle:'round', tension:0, order:10});
  add({data: pts(pastYears, P.past), showLine:false, pointRadius:3.3, pointBackgroundColor:'#ff0000', pointBorderWidth:0, order:2});
  add({data: pts(futureYears, P.future), showLine:false, pointRadius:4.6, pointBackgroundColor:'rgba(0,0,0,0)', pointBorderColor:'#ff0000', pointBorderWidth:2, order:1});

  const gridCol = c => (c.tick && ((c.scale.axis==='y' && c.tick.value % 10 === 0) || (c.scale.axis==='x' && c.tick.value % 50 === 0))) ? '#e8e8e8' : '#f0f0f0';
  new Chart(document.getElementById(id), {
    type: 'line',
    data: {datasets: ds},
    options: {
      animation:false, responsive:false, events:[],
      layout:{padding:{left:0,right:7,top:31,bottom:0}},
      plugins:{legend:{display:false}, tooltip:{enabled:false}},
      scales:{
        x:{type:'linear', min:1837.5, max:2112.5,
           afterBuildTicks: s => { s.ticks = xTicks.map(v=>({value:v})); },
           afterFit: s => { s.height = 40; s.paddingLeft = 0; s.paddingRight = 0; },
           grid:{drawTicks:false, color:gridCol, lineWidth:1.4}, border:{display:false},
           ticks:{padding:9, color:'#4d4d4d', autoSkip:false, maxRotation:0, font:{family:FONT, size:16},
                  callback: v => (v % 50 === 0) ? String(v) : ''}},
        y:{type:'linear', min:P.ymin, max:P.ymax,
           afterBuildTicks: s => { s.ticks = P.yTicks.map(v=>({value:v})); },
           afterFit: s => { s.width = 89; s.paddingTop = 0; s.paddingBottom = 0; },
           grid:{drawTicks:false, color:gridCol, lineWidth:1.4}, border:{display:false},
           ticks:{padding:11, color:'#4d4d4d', autoSkip:false, font:{family:FONT, size:16},
                  callback: v => (v % 10 === 0) ? String(v) : ''},
           title:{display:true, text:'Temperature anomaly (°C)', color:'#1a1a1a', font:{family:FONT, size:20}, padding:{top:24, bottom:0}}}
      }
    }
  });
}

buildPanel('cA', {
  ymin:-10.88, ymax:22.64, yTicks:yTicksA, past:obsA_past, future:obsA_future,
  gray:[grayA1,grayA2,grayA3,grayA4,grayA5,grayA6],
  bands:[
    {color:PURPLE, lo:purpleA_lo, hi:purpleA_hi, coreLo:purpleA_coreLo, coreHi:purpleA_coreHi, fillA:0.12, coreA:0.3, lineA:0.25, order:90},
    {color:ORANGE, lo:orangeA_lo, hi:orangeA_hi, coreLo:orangeA_coreLo, coreHi:orangeA_coreHi, fillA:0.3, coreA:0.6, lineA:0.45, order:80},
    {color:GREEN, lo:greenA_lo, hi:greenA_hi, coreLo:greenA_coreLo, coreHi:greenA_coreHi, fillA:0.6, coreA:0.8, lineA:0.5, order:70}],
  outliers:[{color:ORANGE,y:outA_orange},{color:PURPLE,y:outA_purple1},{color:PURPLE,y:outA_purple2}]
});
buildPanel('cB', {
  ymin:-11.01, ymax:25.59, yTicks:yTicksB, past:obsB_past, future:obsB_future,
  gray:[grayB1,grayB2,grayB3,grayB4,grayB5,grayB6],
  bands:[
    {color:PURPLE, lo:purpleB_lo, hi:purpleB_hi, coreLo:purpleB_coreLo, coreHi:purpleB_coreHi, fillA:0.4, coreA:0.92, lineA:0.35, order:90},
    {color:ORANGE, lo:orangeB_lo, hi:orangeB_hi, coreLo:orangeB_coreLo, coreHi:orangeB_coreHi, fillA:0.45, coreA:0.6, lineA:0.45, order:80},
    {color:GREEN, lo:greenB_lo, hi:greenB_hi, coreLo:greenB_coreLo, coreHi:greenB_coreHi, fillA:0.45, coreA:0.55, lineA:0.45, order:70}],
  outliers:[{color:ORANGE,y:outB_orange1},{color:ORANGE,y:outB_orange2},{color:ORANGE,y:outB_orange3},{color:PURPLE,y:outB_purple1}]
});
buildPanel('cC', {
  ymin:-12.18, ymax:24.14, yTicks:yTicksC, past:obsC_past, future:obsC_future,
  gray:[grayC1,grayC2,grayC3,grayC4,grayC5,grayC6],
  bands:[
    {color:PURPLE, lo:purpleC_lo, hi:purpleC_hi, coreLo:purpleC_coreLo, coreHi:purpleC_coreHi, fillA:0.35, coreA:0.8, lineA:0.35, order:90},
    {color:ORANGE, lo:orangeC_lo, hi:orangeC_hi, coreLo:orangeC_coreLo, coreHi:orangeC_coreHi, fillA:0.3, coreA:0.55, lineA:0.45, order:80},
    {color:GREEN, lo:greenC_lo, hi:greenC_hi, coreLo:greenC_coreLo, coreHi:greenC_coreHi, fillA:0.6, coreA:0.85, lineA:0.5, order:70}],
  outliers:[{color:ORANGE,y:outC_orange}]
});
</script>
</body></html>
